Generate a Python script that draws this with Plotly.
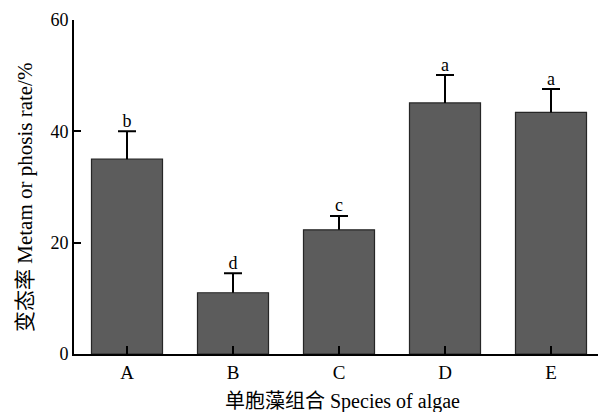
import plotly.graph_objects as go

categories = ["A", "B", "C", "D", "E"]
values = [35.0, 11.0, 22.3, 45.1, 43.4]
errors = [5.0, 3.5, 2.5, 5.0, 4.2]
letters = ["b", "d", "c", "a", "a"]
y_ticks = [0, 20, 40, 60]

serif = "Liberation Serif, Times New Roman, Noto Sans CJK SC, serif"
tops = [v + e for v, e in zip(values, errors)]

fig = go.Figure()
fig.add_trace(go.Bar(
    x=categories, y=values,
    width=0.67,
    marker=dict(color="#5c5c5c", line=dict(color="#262626", width=1.2)),
    error_y=dict(type="data", array=errors, arrayminus=[0]*5, symmetric=False,
                 color="black", thickness=2, width=0),
    showlegend=False,
))
# caps only at the top of each error bar
fig.add_trace(go.Scatter(
    x=categories, y=tops, mode="markers",
    marker=dict(size=1, opacity=0),
    error_y=dict(type="data", array=[0]*5, arrayminus=[0]*5, symmetric=False,
                 color="black", thickness=2, width=9),
    showlegend=False, hoverinfo="skip",
))
fig.add_trace(go.Scatter(
    x=categories, y=tops,
    mode="text", text=letters, textposition="top center",
    textfont=dict(family=serif, size=18, color="black"),
    showlegend=False, cliponaxis=False,
))

fig.update_layout(
    width=598, height=404,
    margin=dict(l=66, r=2, t=10, b=58),
    plot_bgcolor="white", paper_bgcolor="white",
    font=dict(family=serif, size=18, color="black"),
    bargap=0.33,
    annotations=[
        dict(text="变态率 Metam or phosis rate/%", textangle=-90,
             xref="paper", yref="paper", x=0, y=0.467, xanchor="center", yanchor="middle",
             xshift=-49, showarrow=False, font=dict(family=serif, size=21)),
        dict(text="单胞藻组合 Species of algae",
             xref="paper", yref="paper", x=0.5075, y=0, xanchor="center", yanchor="middle",
             yshift=-47, showarrow=False, font=dict(family=serif, size=20)),
    ],
)
fig.update_xaxes(
    type="category", range=[-0.5, 4.5],
    showline=True, linecolor="black", linewidth=1.8,
    ticks="inside", ticklen=8, tickwidth=1.8, tickcolor="black",
    showgrid=False, zeroline=False,
    tickfont=dict(family=serif, size=19),
)
fig.update_yaxes(
    range=[0, 60], tickvals=y_ticks,
    showline=True, linecolor="black", linewidth=1.8,
    ticks="inside", ticklen=7, tickwidth=1.8, tickcolor="black",
    showgrid=False, zeroline=False,
    tickfont=dict(family=serif, size=18),
)

fig.write_html("out.html")
